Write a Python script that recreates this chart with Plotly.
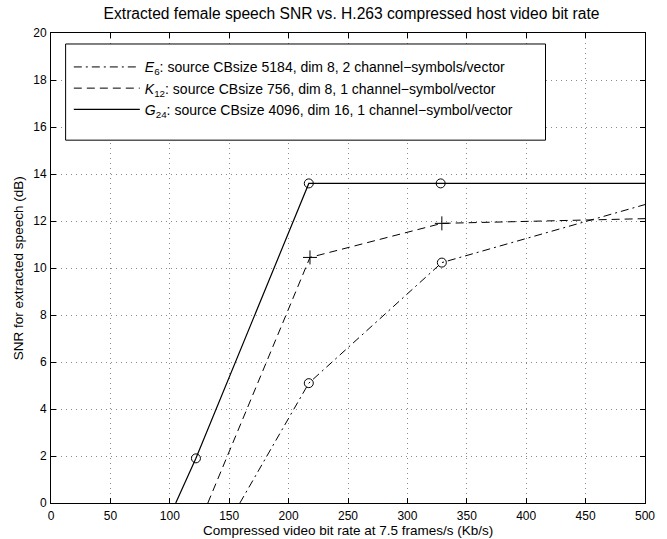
import plotly.graph_objects as go

# Data
e6_x = [159, 217, 329, 500]
e6_y = [0, 5.1, 10.23, 12.7]
e6_mx = [217, 329]
e6_my = [5.1, 10.23]

k12_x = [132, 218, 329, 500]
k12_y = [0, 10.45, 11.9, 12.1]
k12_mx = [218, 329]
k12_my = [10.45, 11.9]

g24_x = [105, 122, 217, 328, 500]
g24_y = [0, 1.9, 13.6, 13.6, 13.6]
g24_mx = [122, 217, 328]
g24_my = [1.9, 13.6, 13.6]

names = [
    "<i>E</i><sub>6</sub>: source CBsize 5184, dim 8, 2 channel\u2212symbols/vector",
    "<i>K</i><sub>12</sub>: source CBsize 756, dim 8, 1 channel\u2212symbol/vector",
    "<i>G</i><sub>24</sub>: source CBsize 4096, dim 16, 1 channel\u2212symbol/vector",
]
x_ticks = [0, 50, 100, 150, 200, 250, 300, 350, 400, 450, 500]
y_ticks = [0, 2, 4, 6, 8, 10, 12, 14, 16, 18, 20]

FONT = "Liberation Sans, Arial, Helvetica, sans-serif"

fig = go.Figure()
fig.add_trace(go.Scatter(x=e6_x, y=e6_y, mode="lines", name=names[0],
                         line=dict(color="black", width=1, dash="8px,4px,2px,4px")))
fig.add_trace(go.Scatter(x=k12_x, y=k12_y, mode="lines", name=names[1],
                         line=dict(color="black", width=1, dash="8px,5px")))
fig.add_trace(go.Scatter(x=g24_x, y=g24_y, mode="lines", name=names[2],
                         line=dict(color="black", width=1.2)))
fig.add_trace(go.Scatter(x=e6_mx, y=e6_my, mode="markers", showlegend=False,
                         marker=dict(symbol="circle-open", size=9, color="black", line=dict(width=1))))
fig.add_trace(go.Scatter(x=k12_mx, y=k12_my, mode="markers", showlegend=False,
                         marker=dict(symbol="cross-thin-open", size=10, color="black", line=dict(width=1, color="black"))))
fig.add_trace(go.Scatter(x=g24_mx, y=g24_my, mode="markers", showlegend=False,
                         marker=dict(symbol="circle-open", size=9, color="black", line=dict(width=1))))

axis_common = dict(
    showline=True, linecolor="black", linewidth=1, mirror="ticks",
    ticks="inside", ticklen=5, tickcolor="black",
    showgrid=True, gridcolor="#8a8a8a", gridwidth=1, griddash="1px,4px",
    zeroline=False, tickfont=dict(family=FONT, size=12, color="black"),
)

fig.update_xaxes(range=[0, 500], tickvals=x_ticks, ticklabelstandoff=2, **axis_common)
fig.update_yaxes(range=[0, 20], tickvals=y_ticks, ticklabelstandoff=1, **axis_common)

# Legend frame (drawn as a shape for MATLAB-like padding)
fig.add_shape(type="rect", xref="paper", yref="paper",
              x0=0.0246, x1=0.8325, y0=0.772, y1=0.9766,
              line=dict(color="black", width=1), fillcolor="white", layer="above")

fig.add_annotation(text="Compressed video bit rate at 7.5 frames/s (Kb/s)",
                   xref="paper", yref="paper", x=0.5, y=-(530 - 503) / 470, yanchor="middle",
                   showarrow=False, font=dict(family=FONT, size=13.5, color="black"))
fig.add_annotation(text="SNR for extracted speech (dB)",
                   xref="paper", yref="paper", x=(18 - 51) / 597, y=0.5, xanchor="center",
                   textangle=-90, showarrow=False,
                   font=dict(family=FONT, size=13.5, color="black"))

fig.update_layout(
    width=667, height=539,
    margin=dict(l=51, r=19, t=33, b=36),
    paper_bgcolor="white", plot_bgcolor="white",
    title=dict(text="Extracted female speech SNR vs. H.263 compressed host video bit rate",
               x=0.527, xanchor="center", y=1 - 14 / 539, yanchor="middle", yref="container",
               font=dict(family=FONT, size=15.6, color="black")),
    legend=dict(x=0.03, y=0.961, xanchor="left", yanchor="top",
                bgcolor="rgba(0,0,0,0)", borderwidth=0,
                font=dict(family=FONT, size=14, color="black"),
                itemwidth=66, tracegroupgap=0),
    showlegend=True,
)

fig.write_html("out.html", config={"displayModeBar": False},
               post_script="document.body.style.margin='0';document.body.style.overflow='hidden';")
